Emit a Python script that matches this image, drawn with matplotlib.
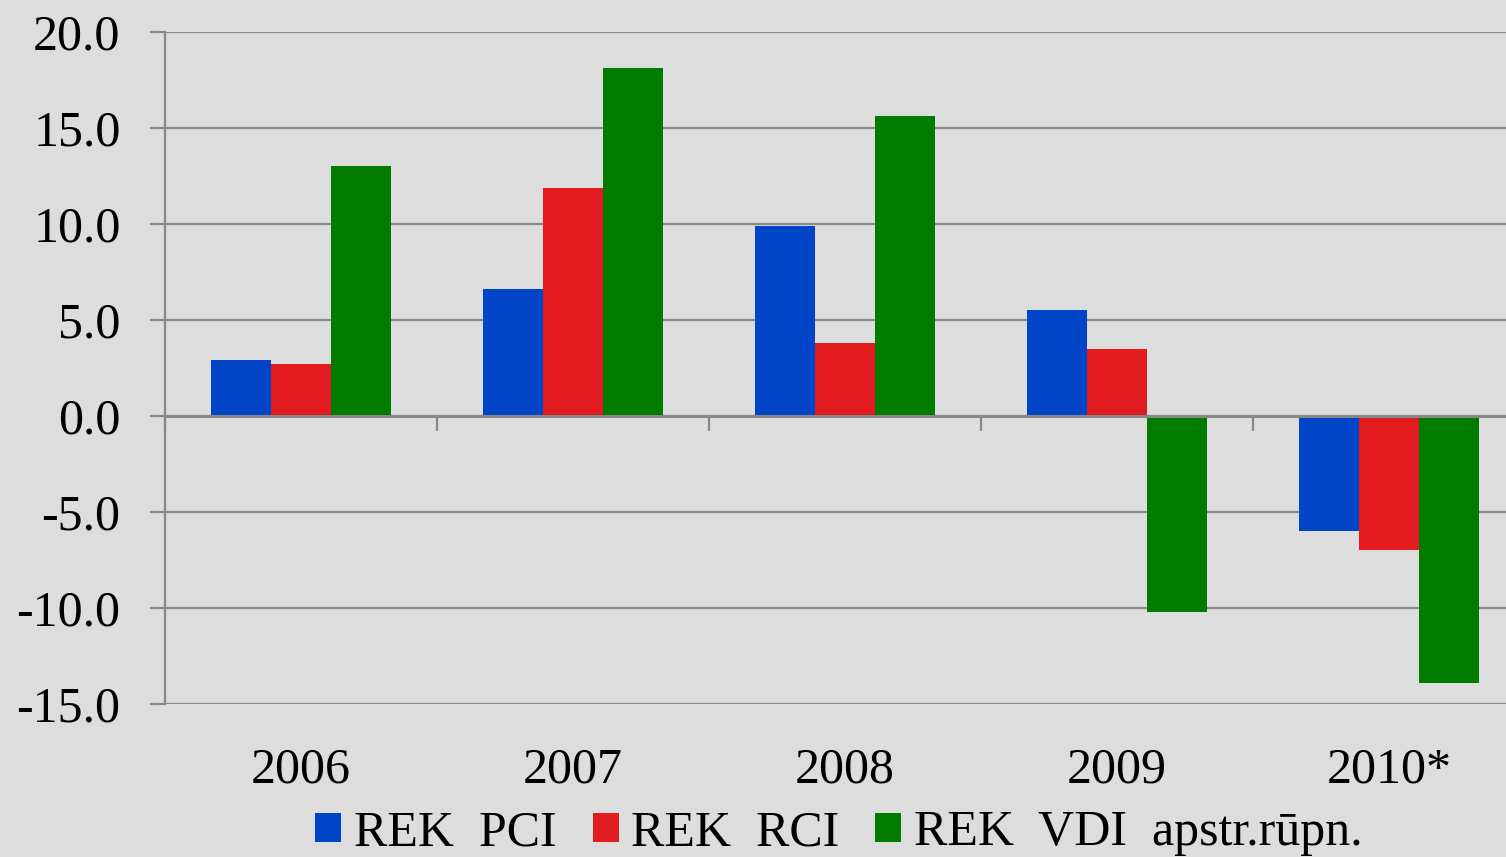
import numpy as np
import matplotlib.pyplot as plt
from matplotlib.transforms import blended_transform_factory

plt.rcParams['font.family'] = ['Liberation Serif', 'DejaVu Serif']
plt.rcParams['axes.unicode_minus'] = False

years = ['2006', '2007', '2008', '2009', '2010*']
pci = [2.9, 6.6, 9.9, 5.5, -6.0]
rci = [2.7, 11.9, 3.8, 3.5, -7.0]
vdi = [13.0, 18.1, 15.6, -10.2, -13.9]
names = ['REK  PCI', 'REK  RCI', 'REK  VDI  apstr.rūpn.']
colors = ['#0044C8', '#E21B1E', '#007C00']
yticks = [-15, -10, -5, 0, 5, 10, 15, 20]

bg = '#DDDDDD'
gc = '#888888'
fs = 36

fig = plt.figure(figsize=(15.06, 8.57), dpi=100, facecolor=bg)
ax = fig.add_axes([165/1506, 1-704/857, (1525-165)/1506, (704-32)/857])
ax.set_facecolor(bg)

x = np.arange(len(years))
w = 0.22
for i, (vals, c, n) in enumerate(zip([pci, rci, vdi], colors, names)):
    ax.bar(x + (i-1)*w, vals, w, color=c, label=n, zorder=3, edgecolor='none')

ax.set_xlim(-0.5, 4.5)
ax.set_ylim(-15, 20)
ax.set_yticks(yticks)
ax.set_yticklabels(['%.1f' % v for v in yticks], fontsize=fs)
ax.yaxis.grid(True, color=gc, lw=1.6, zorder=1)
ax.tick_params(axis='y', length=11, width=1.6, color=gc, pad=21)

for s in ['top', 'right']:
    ax.spines[s].set_visible(False)
ax.spines['left'].set_color(gc)
ax.spines['left'].set_linewidth(1.6)
ax.spines['bottom'].set_position(('data', 0))
ax.spines['bottom'].set_color(gc)
ax.spines['bottom'].set_linewidth(2.2)
ax.spines['bottom'].set_zorder(4)
ax.set_xticks(np.arange(len(years)) - 0.5)
ax.set_xticklabels([])
ax.tick_params(axis='x', length=11, width=1.6, color=gc, direction='out')

tr = blended_transform_factory(ax.transData, ax.transAxes)
for xi, lab in zip(x, years):
    ax.text(xi, -0.1165, lab, transform=tr, ha='center', va='baseline',
            fontsize=fs)

fig.legend(loc='center', bbox_to_anchor=(839/1506, 1-833/857), ncol=3,
           frameon=False, fontsize=fs, handlelength=0.52, handleheight=0.52,
           handletextpad=0.25, columnspacing=0.72, borderpad=0)

fig.savefig('out.png', dpi=100, facecolor=bg)
